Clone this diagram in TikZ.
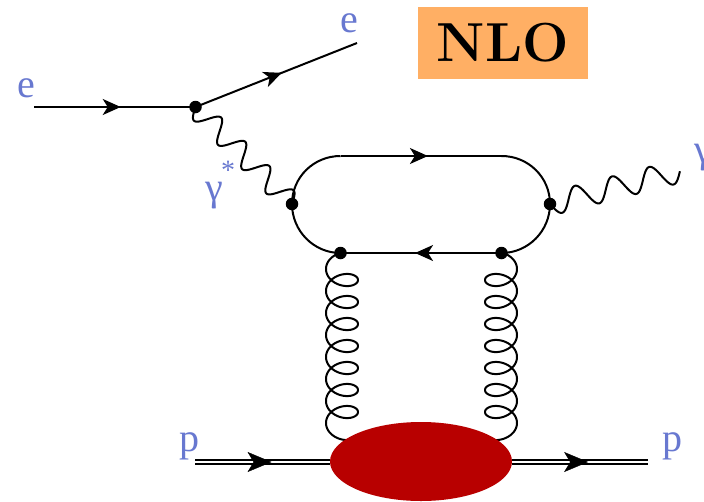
\documentclass[tikz,border=0pt]{standalone}
\usepackage{fontspec}
\newfontfamily\labfont{Liberation Serif}
\usetikzlibrary{decorations.markings,arrows.meta,shapes.geometric}
\definecolor{lab}{RGB}{104,120,208}
\definecolor{blobc}{RGB}{184,0,0}
\definecolor{boxc}{RGB}{255,175,100}
\tikzset{
  wire/.style={line width=2pt},
  fermion/.style={wire,postaction={decorate},decoration={markings,mark=at position #1 with {\arrow{Stealth[length=18pt,width=16pt,inset=5pt]}}}},
  protonarrow/.style={postaction={decorate},decoration={markings,mark=at position #1 with {\arrow{Stealth[length=24pt,width=20pt,inset=6pt]}}}},
  protonline/.style={line width=2pt,double=white,double distance=2pt,draw=black},
  vtx/.style={circle,fill=black,inner sep=0pt,minimum size=12.5pt},
  lbl/.style={text=lab,font=\labfont\fontsize{40}{40}\selectfont,inner sep=0pt},
}
\begin{document}
\begin{tikzpicture}[x=1pt,y=-1pt]
\useasboundingbox (0,0) rectangle (704,501);
\clip (0,0) rectangle (704,501);
\node[fill=boxc,minimum width=170pt,minimum height=72pt,inner sep=0pt,font=\fontsize{55}{55}\selectfont\bfseries] (nlo) at (503,43) {NLO};
\coordinate (ein) at (34,107);
\coordinate (eout) at (357,43);
\coordinate (tl) at (340.5,156);
\coordinate (tr) at (501.5,156);
\coordinate (pl) at (195,462);
\coordinate (pr) at (648,462);
% fermions
\draw[fermion=0.537] (ein) -- (195.5,107) coordinate (v1c);
\draw[fermion=0.534] (v1c) -- (eout);
\draw[wire] (292,204) coordinate (v2c) .. controls (292,177.2) and (313.7,156) .. (tl);
\draw[fermion=0.543] (tl) -- (tr);
\draw[wire] (tr) .. controls (528.3,156) and (550,177.2) .. (550,204) coordinate (v3c);
\draw[fermion=0.537] (501.5,253) coordinate (v5c) -- (340.5,253) coordinate (v4c);
\draw[wire] (v2c) .. controls (292,230.8) and (313.7,253) .. (v4c);
\draw[wire] (v5c) .. controls (528.3,253) and (550,230.8) .. (v3c);
% photons
\draw[wire,line join=round] plot[domain=0:1,samples=200,variable=\u] ({195.5+96.5*\u-7.6*sin(1440*\u)},{107+97*\u+7.6*sin(1440*\u)});
\draw[wire,line join=round] plot[domain=0:1,samples=200,variable=\u] ({550+130*\u+2.83*sin(1260*\u)},{204-33*\u+11.15*sin(1260*\u)});
% gluons
\draw[wire,line join=round] plot[domain=97:2830,samples=500,variable=\t] ({342+16*cos(\t)},{258+\t/360*22-11*sin(\t)});
\draw[wire,line join=round] plot[domain=90:2830,samples=500,variable=\t] ({501-16*cos(\t)},{258+\t/360*22-11*sin(\t)});
% blob
\node[ellipse,fill=blobc,minimum width=182pt,minimum height=79pt,inner sep=0pt] (blob) at (421,461.5) {};
% proton lines
\draw[protonline] (pl) -- (blob.west |- pl);
\draw[protonline] (blob.east |- pr) -- (pr);
\path[protonarrow=0.568] (pl) -- (blob.west |- pl);
\path[protonarrow=0.559] (blob.east |- pr) -- (pr);
% vertices
\node[vtx] (v1) at (v1c) {};
\node[vtx] (v2) at (v2c) {};
\node[vtx] (v3) at (v3c) {};
\node[vtx] (v4) at (v4c) {};
\node[vtx] (v5) at (v5c) {};
% labels
\node[lbl] (e1) at (26.7,88) {e};
\node[lbl] (e2) at (349,23) {e};
\node[lbl] (g1) at (214,196) {γ};
\node[lbl,font=\labfont\fontsize{28}{28}\selectfont] (st) at (228,170) {*};
\node[lbl] (g2) at (703,158) {γ};
\node[lbl] (p1) at (189,446) {p};
\node[lbl] (p2) at (672,446) {p};
\end{tikzpicture}
\end{document}
